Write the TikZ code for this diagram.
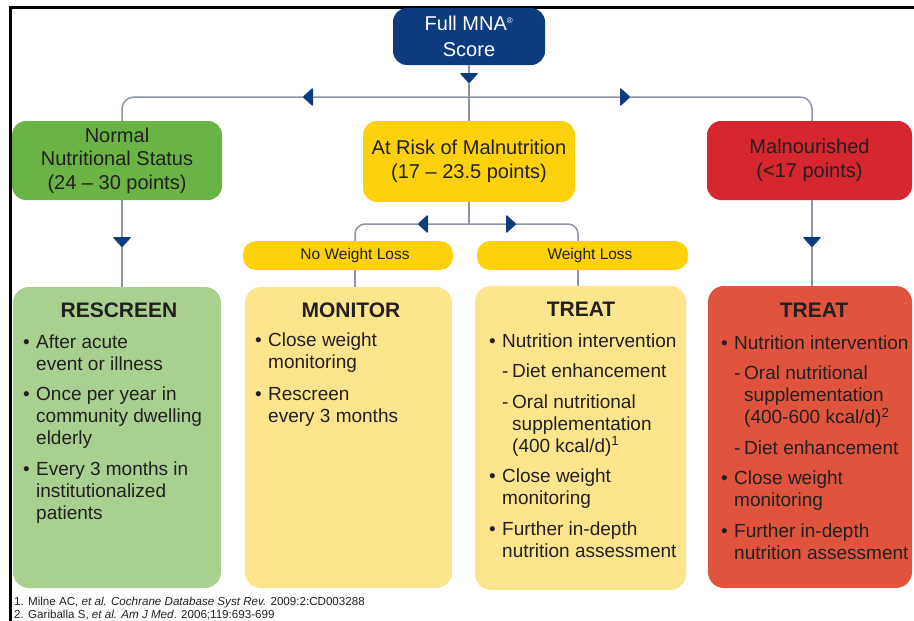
\documentclass[tikz,border=0pt]{standalone}
\usepackage{fontspec}
\setmainfont{Liberation Sans}
\usetikzlibrary{calc}

\definecolor{navy}{RGB}{13,60,126}
\definecolor{hdrgreen}{RGB}{106,180,70}
\definecolor{hdryellow}{RGB}{253,210,12}
\definecolor{hdrred}{RGB}{214,38,46}
\definecolor{boxgreen}{RGB}{170,208,143}
\definecolor{boxyellow}{RGB}{253,229,142}
\definecolor{boxred}{RGB}{224,84,62}
\definecolor{inkdark}{RGB}{35,31,32}
\definecolor{linegray}{RGB}{140,148,165}

% list helpers: bullet, continuation indent, sub-item dash, sub-item indent
\newcommand\bul{\makebox[13pt][l]{\textbullet}}
\newcommand\ind{\hspace*{13pt}}
\newcommand\subd{\hspace*{13pt}\makebox[10pt][l]{-}}
\newcommand\subind{\hspace*{23pt}}

\begin{document}
\begin{tikzpicture}[x=1pt,y=-1pt,
  hdr/.style={rounded corners=14, inner sep=0, align=center, text=inkdark,
    font=\fontsize{20}{23.5}\selectfont},
  panel/.style={rounded corners=16, inner sep=0},
  pill/.style={rounded corners=13, inner sep=0, minimum height=29, text=inkdark,
    font=\fontsize{15.5}{18}\selectfont},
  title/.style={anchor=base, inner sep=0, text=inkdark,
    font=\bfseries\fontsize{21}{24}\selectfont},
  % lists are placed by the baseline of their last line
  list/.style={anchor=base west, inner sep=0, align=left, text=inkdark,
    font=\fontsize{19}{22}\selectfont},
  conn/.style={draw=linegray, line width=1.5},
  tri/.pic={\fill[navy, rounded corners=1.2] (-9.5,-5) -- (9.5,-5) -- (0,5.5) -- cycle;},
]
\useasboundingbox (0,0) rectangle (914,621);

% frame edges
\draw[line width=3, black] (10,621) -- (10,7) -- (914,7);

% score box and category boxes
\node[hdr, fill=navy, text=white, minimum width=152, minimum height=57,
  font=\fontsize{20}{26}\selectfont] (mna) at (469,36.5) {Full MNA\textsuperscript{\footnotesize®}\\Score};
\node[hdr, fill=hdrgreen, minimum width=210, minimum height=79] (normal) at (117,160.5)
  {Normal\\Nutritional Status\\(24 – 30 points)};
\node[hdr, fill=hdryellow, minimum width=212, minimum height=81] (risk) at (469,161.5)
  {At Risk of Malnutrition\\(17 – 23.5 points)};
\node[hdr, fill=hdrred, minimum width=205, minimum height=79] (mal) at (809.5,160.5)
  {Malnourished\\(<17 points)};

% weight-loss branches
\node[pill, fill=hdryellow, minimum width=210] (nwl) at (348,255.5) {\hspace*{14pt}No Weight Loss};
\node[pill, fill=hdryellow, minimum width=211] (wl) at (582.5,255.5) {\hspace*{15pt}Weight Loss};

% action panels
\node[panel, fill=boxgreen, minimum width=208, minimum height=301] (rescreen) at (117,437.5) {};
\node[panel, fill=boxyellow, minimum width=207, minimum height=301] (monitor) at (348.5,437.5) {};
\node[panel, fill=boxyellow, minimum width=211, minimum height=304] (treaty) at (580.5,438) {};
\node[panel, fill=boxred, minimum width=204, minimum height=302] (treatr) at (810,437) {};

% connector columns and junctions
\coordinate (colL) at (122,0);
\coordinate (colR) at (812,0);
\coordinate (colNW) at (355,0);
\coordinate (colW) at (578,0);
\coordinate (hubT) at (469,97);
\coordinate (hubB) at (469,224);

\draw[conn, rounded corners=12] (normal.north -| colL) |- (hubT) -| (mal.north -| colR);
\draw[conn] (mna.south) -- (risk.north);
\draw[conn] (normal.south -| colL) -- (rescreen.north -| colL);
\draw[conn] (mal.south -| colR) -- (treatr.north -| colR);
\draw[conn] (risk.south) -- (hubB);
\draw[conn, rounded corners=10] (nwl.north -| colNW) |- (hubB) -| (wl.north -| colW);
\draw[conn] (nwl.south -| colNW) -- (monitor.north -| colNW);
\draw[conn] (wl.south -| colW) -- (treaty.north -| colW);

% direction markers
\pic at (469,78) {tri};
\pic[rotate=-90] at (308,97) {tri};
\pic[rotate=90] at (625,97) {tri};
\pic at (122,242) {tri};
\pic at (812,242) {tri};
\pic[rotate=-90] at (423,224) {tri};
\pic[rotate=90] at (511,224) {tri};

% panel contents
\node[title] (rescreenT) at (119,317) {RESCREEN};
\node[list] (rescreenL) at (23,519) {\bul After acute\\\ind event or illness\\[8.5pt]%
  \bul Once per year in\\\ind community dwelling\\\ind elderly\\[8.5pt]%
  \bul Every 3 months in\\\ind institutionalized\\\ind patients};

\node[title] (monitorT) at (351,317) {MONITOR};
\node[list] (monitorL) at (255,422) {\bul Close weight\\\ind monitoring\\[10pt]%
  \bul Rescreen\\\ind every 3 months};

\node[title] (treatyT) at (581,316) {TREAT};
\node[list] (treatyL) at (489,557) {\bul Nutrition intervention\\[8.5pt]%
  \subd Diet enhancement\\[8.5pt]%
  \subd Oral nutritional\\\subind supplementation\\\subind (400 kcal/d)\textsuperscript{1}\\[8.5pt]%
  \bul Close weight\\\ind monitoring\\[8.5pt]%
  \bul Further in-depth\\\ind nutrition assessment};

\node[title] (treatrT) at (814,317) {TREAT};
\node[list] (treatrL) at (721,559) {\bul Nutrition intervention\\[8.5pt]%
  \subd Oral nutritional\\\subind supplementation\\\subind (400-600 kcal/d)\textsuperscript{2}\\[8.5pt]%
  \subd Diet enhancement\\[8.5pt]%
  \bul Close weight\\\ind monitoring\\[8.5pt]%
  \bul Further in-depth\\\ind nutrition assessment};

% references
\node[anchor=base west, inner sep=0, align=left, text=inkdark,
  font=\fontsize{11.6}{13}\selectfont] (refs) at (14,618)
  {1. Milne AC, \textit{et al.} \textit{Cochrane Database Syst Rev.} 2009:2:CD003288\\
   2. Gariballa S, \textit{et al. Am J Med}. 2006;119:693-699};
\end{tikzpicture}
\end{document}
